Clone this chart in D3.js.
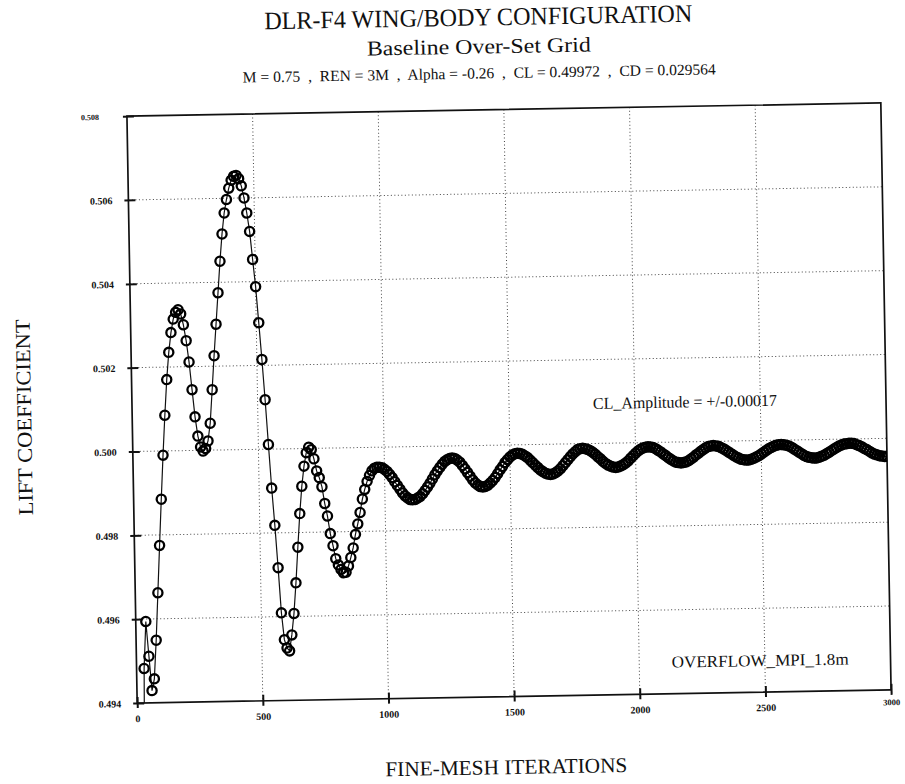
<!DOCTYPE html>
<html>
<head>
<meta charset="utf-8">
<script src="https://cdn.jsdelivr.net/npm/d3@7/dist/d3.min.js"></script>
<style>
  html, body { margin: 0; padding: 0; background: #fff; }
  svg { display: block; }
  text { font-family: "Liberation Serif", "Times New Roman", serif; fill: #111; }
</style>
</head>
<body>
<svg id="chart" width="905" height="784"></svg>
<script>
// Lift coefficient history, one sample every 10 fine-mesh iterations
const firstIteration = 20;
const iterationStep = 10;
const liftCoefficient = [
  0.4900, 0.49482, 0.49594, 0.49511, 0.49429, 0.49457, 0.49549, 0.49662,
  0.49775, 0.49885, 0.49990, 0.50085, 0.50170, 0.50235, 0.50282, 0.50314, 0.50330, 0.50336,
  0.50326, 0.50300, 0.50262, 0.50211, 0.50145, 0.50080, 0.50034, 0.50008, 0.49998, 0.50004,
  0.50022, 0.50064, 0.50144, 0.50225, 0.50300, 0.50375, 0.50450, 0.50515, 0.50565, 0.50597,
  0.50624, 0.50643, 0.50652, 0.50654, 0.50646, 0.50629, 0.50600, 0.50564, 0.50520, 0.50453,
  0.50388, 0.50302, 0.50214, 0.50118, 0.50011, 0.49907, 0.49818, 0.49717, 0.49609, 0.49545,
  0.49525, 0.49518, 0.49556, 0.49607, 0.49680, 0.49765, 0.49845, 0.49910, 0.49958, 0.49990,
  0.50003, 0.49997, 0.49975, 0.49946, 0.49930, 0.49908, 0.49868, 0.49838, 0.49796, 0.49767,
  0.49736, 0.49721, 0.49710, 0.49702, 0.49703, 0.49718, 0.49738, 0.49761, 0.49793, 0.49818,
  0.49845, 0.49877, 0.49900, 0.49919, 0.49933, 0.49944, 0.49950, 0.49952, 0.49952,
  // 990 - 1110
  0.49951, 0.49947, 0.49942, 0.49935, 0.49927, 0.49917, 0.49908, 0.49899, 0.49890, 0.49883, 0.49878, 0.49874, 0.49873,
  // 1120 - 1270
  0.49874, 0.49877, 0.49881, 0.49887, 0.49895, 0.49903, 0.49912, 0.49922, 0.49932, 0.49941, 0.49949, 0.49957, 0.49963, 0.49967, 0.49970, 0.49971,
  // 1280 - 1390
  0.49970, 0.49966, 0.49961, 0.49953, 0.49945, 0.49936, 0.49927, 0.49918, 0.49911, 0.49906, 0.49902, 0.49901,
  // 1400 - 1530
  0.49902, 0.49905, 0.49910, 0.49916, 0.49923, 0.49932, 0.49941, 0.49949, 0.49958, 0.49965, 0.49971, 0.49976, 0.49979, 0.49980,
  // 1540 - 1660
  0.49979, 0.49977, 0.49973, 0.49969, 0.49963, 0.49957, 0.49951, 0.49945, 0.49939, 0.49935, 0.49931, 0.49929, 0.49928,
  // 1670 - 1790
  0.49929, 0.49932, 0.49936, 0.49941, 0.49948, 0.49955, 0.49962, 0.49969, 0.49976, 0.49981, 0.49986, 0.49988, 0.49989,
  // 1800 - 1920
  0.49988, 0.49986, 0.49983, 0.49979, 0.49974, 0.49968, 0.49963, 0.49957, 0.49952, 0.49948, 0.49945, 0.49943, 0.49942,
  // 1930 - 2050
  0.49943, 0.49945, 0.49948, 0.49952, 0.49957, 0.49963, 0.49969, 0.49975, 0.49980, 0.49984, 0.49987, 0.49989, 0.49990,
  // 2060 - 2180
  0.49989, 0.49988, 0.49985, 0.49981, 0.49977, 0.49972, 0.49968, 0.49963, 0.49959, 0.49955, 0.49952, 0.49951, 0.49950,
  // 2190 - 2310
  0.49951, 0.49952, 0.49955, 0.49959, 0.49963, 0.49968, 0.49972, 0.49977, 0.49981, 0.49985, 0.49988, 0.49989, 0.49990,
  // 2320 - 2440
  0.49989, 0.49988, 0.49985, 0.49982, 0.49978, 0.49974, 0.49970, 0.49966, 0.49962, 0.49959, 0.49956, 0.49955, 0.49954,
  // 2450 - 2580
  0.49954, 0.49956, 0.49958, 0.49961, 0.49964, 0.49968, 0.49972, 0.49976, 0.49980, 0.49983, 0.49986, 0.49988, 0.49989, 0.49990,
  // 2590 - 2710
  0.49989, 0.49988, 0.49986, 0.49983, 0.49979, 0.49975, 0.49971, 0.49967, 0.49963, 0.49960, 0.49958, 0.49957, 0.49956,
  // 2720 - 2850
  0.49956, 0.49958, 0.49960, 0.49962, 0.49966, 0.49969, 0.49973, 0.49977, 0.49980, 0.49984, 0.49986, 0.49988, 0.49989, 0.49990,
  // 2860 - 3000
  0.49990, 0.49989, 0.49986, 0.49984, 0.49981, 0.49977, 0.49974, 0.49970, 0.49966, 0.49963, 0.49961, 0.49959, 0.49958, 0.49957, 0.49957
];

const xTicks = [0, 500, 1000, 1500, 2000, 2500, 3000];
const yTicks = [0.494, 0.496, 0.498, 0.500, 0.502, 0.504, 0.506, 0.508];

const titleLines = [
  "DLR-F4 WING/BODY CONFIGURATION",
  "Baseline Over-Set Grid",
  "M = 0.75  ,  REN = 3M  ,  Alpha = -0.26  ,  CL = 0.49972  ,  CD = 0.029564"
];
const xLabel = "FINE-MESH ITERATIONS";
const yLabel = "LIFT COEFFICIENT";
const annotations = [
  { text: "CL_Amplitude = +/-0.00017", iter: 1834, cl: 0.50096, len: 184 },
  { text: "OVERFLOW_MPI_1.8m", iter: 2129, cl: 0.49476, len: 177 }
];

const points = liftCoefficient.map((v, i) => ({ iter: firstIteration + i * iterationStep, cl: v }));

const plot = { left: 132, right: 886, top: 109.5, bottom: 696.5 };

const x = d3.scaleLinear().domain([0, 3000]).range([plot.left, plot.right]);
const y = d3.scaleLinear().domain([0.494, 0.508]).range([plot.bottom, plot.top]);

const svg = d3.select("#chart");
svg.append("rect").attr("width", 905).attr("height", 784).attr("fill", "#fff");

// whole sheet sits slightly tilted
const root = svg.append("g").attr("transform", "rotate(-1, 509, 403)");

// titles
const titleSpec = [
  { y: 25, size: 25, len: 428 },
  { y: 53, size: 21, len: 224 },
  { y: 78, size: 15.5, len: 473 }
];
titleLines.forEach((t, i) => {
  root.append("text")
    .attr("x", 485).attr("y", titleSpec[i].y)
    .attr("text-anchor", "middle")
    .attr("font-size", titleSpec[i].size)
    .attr("textLength", titleSpec[i].len)
    .attr("lengthAdjust", "spacingAndGlyphs")
    .attr("xml:space", "preserve")
    .text(t);
});

// dotted grid
const grid = root.append("g").attr("stroke", "#444").attr("stroke-width", 1)
  .attr("stroke-dasharray", "1,2.5");
grid.selectAll("line.gy").data(yTicks.slice(1, -1)).join("line")
  .attr("x1", plot.left).attr("x2", plot.right)
  .attr("y1", d => y(d)).attr("y2", d => y(d));
grid.selectAll("line.gx").data(xTicks.slice(1, -1)).join("line")
  .attr("x1", d => x(d)).attr("x2", d => x(d))
  .attr("y1", plot.top).attr("y2", plot.bottom);

// frame
root.append("rect")
  .attr("x", plot.left).attr("y", plot.top)
  .attr("width", plot.right - plot.left).attr("height", plot.bottom - plot.top)
  .attr("fill", "none").attr("stroke", "#111").attr("stroke-width", 1.7);

// axes
const yAxis = root.append("g").attr("transform", `translate(${plot.left},0)`)
  .call(d3.axisLeft(y).tickValues(yTicks).tickFormat(d3.format(".3f")).tickSizeOuter(0).tickPadding(10));
const xAxis = root.append("g").attr("transform", `translate(0,${plot.bottom})`)
  .call(d3.axisBottom(x).tickValues(xTicks).tickFormat(d3.format("d")).tickSizeOuter(0).tickPadding(6));

[yAxis, xAxis].forEach(a => {
  a.select(".domain").remove();
  a.selectAll("text")
    .attr("font-family", "'Liberation Serif', 'Times New Roman', serif")
    .attr("font-weight", "bold")
    .attr("font-size", 10)
    .attr("fill", "#000");
});
yAxis.selectAll(".tick line").attr("x1", -4).attr("x2", 7)
  .attr("stroke", "#111").attr("stroke-width", 2);
xAxis.selectAll(".tick line").attr("y1", -6).attr("y2", 5)
  .attr("stroke", "#111").attr("stroke-width", 2);
yAxis.selectAll(".tick text").attr("dy", "0.35em");
yAxis.selectAll(".tick").filter(d => d === 0.508).select("text")
  .attr("font-size", 8).attr("x", -28);
xAxis.selectAll(".tick").filter(d => d === 3000).select("text")
  .attr("font-size", 8.5).attr("dy", "0.4em");

// axis titles
root.append("text")
  .attr("x", 500).attr("y", 774)
  .attr("text-anchor", "middle").attr("font-size", 21)
  .attr("textLength", 242).attr("lengthAdjust", "spacingAndGlyphs")
  .text(xLabel);
root.append("text")
  .attr("transform", "translate(31,409) rotate(-90)")
  .attr("text-anchor", "middle").attr("font-size", 21)
  .attr("textLength", 196).attr("lengthAdjust", "spacingAndGlyphs")
  .text(yLabel);

// series
root.append("clipPath").attr("id", "plotClip")
  .append("rect")
  .attr("x", plot.left).attr("y", plot.top)
  .attr("width", plot.right - plot.left).attr("height", plot.bottom - plot.top);

const series = root.append("g").attr("clip-path", "url(#plotClip)");
series.append("path")
  .datum(points)
  .attr("fill", "none").attr("stroke", "#111").attr("stroke-width", 1.2)
  .attr("d", d3.line().x(d => x(d.iter)).y(d => y(d.cl)));
series.selectAll("circle").data(points).join("circle")
  .attr("cx", d => x(d.iter)).attr("cy", d => y(d.cl))
  .attr("r", 4.6)
  .attr("fill", "none").attr("stroke", "#000").attr("stroke-width", 2.3);

// notes
annotations.forEach(a => {
  root.append("text")
    .attr("x", x(a.iter)).attr("y", y(a.cl))
    .attr("dy", "0.35em")
    .attr("font-size", 16.5)
    .attr("textLength", a.len).attr("lengthAdjust", "spacingAndGlyphs")
    .text(a.text);
});
</script>
</body>
</html>
